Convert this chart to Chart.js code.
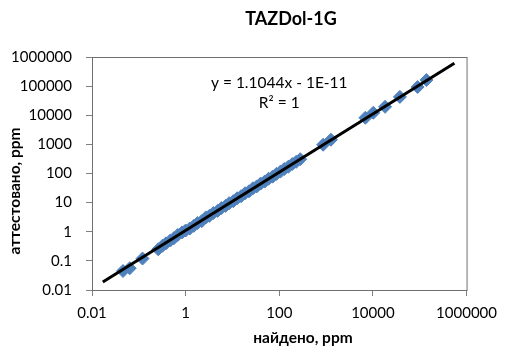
<!DOCTYPE html>
<html>
<head>
<meta charset="utf-8">
<script src="https://cdn.jsdelivr.net/npm/chart.js@4/dist/chart.umd.min.js"></script>
<style>
  body { margin: 0; background: #fff; }
  canvas { display: block; }
</style>
</head>
<body>
<canvas id="chart" width="505" height="352"></canvas>
<script>
const chartTitle = 'TAZDol-1G';
const xTitle = 'найдено, ppm';
const yTitle = 'аттестовано, ppm';
const equationText = 'y = 1.1044x - 1E-11';
const rSquaredText = 'R² = 1';

// found (x) vs certified (y)
const found = [0.046, 0.064, 0.12, 0.26, 0.32, 0.38, 0.47, 0.56, 0.68, 0.84,
    1.0, 1.23, 1.5, 1.8, 2.2, 2.7, 3.2, 3.9, 4.8, 5.8,
    7.1, 8.5, 10.4, 12.6, 15.3, 18.6, 22.6, 27.4, 33, 40,
    49, 59, 72, 87, 106, 128, 156, 190, 230, 280,
    865, 1270, 6900, 10200, 18200, 37700, 90000, 139000];
const certified = [0.045, 0.056, 0.12, 0.25, 0.33, 0.40, 0.50, 0.60, 0.78, 0.95,
    1.1, 1.3, 1.6, 2.0, 2.3, 3.1, 3.5, 4.4, 5.2, 6.5,
    7.7, 9.6, 11.2, 14.1, 16.6, 21, 24.5, 31, 36, 45,
    53, 66, 78, 97, 116, 143, 170, 212, 252, 310,
    970, 1450, 8200, 12200, 19500, 42700, 93000, 162000];

// trendline ends
const trendX = [0.017, 550000];
const trendY = [0.0188, 607420];

const xTicks = [0.01, 1, 100, 10000, 1000000];
const yTicks = [0.01, 0.1, 1, 10, 100, 1000, 10000, 100000, 1000000];

const fontFamily = 'Lato, "Open Sans", sans-serif';
Chart.defaults.font.family = fontFamily;
Chart.defaults.color = '#000';

const extraText = {
    id: 'extraText',
    beforeDatasetsDraw(chart) {
        const ctx = chart.ctx;
        const area = chart.chartArea;
        ctx.save();
        ctx.strokeStyle = '#6f6f6f';
        ctx.lineWidth = 1;
        ctx.strokeRect(area.left + 0.5, area.top + 0.5, area.right - area.left, area.bottom - area.top);
        ctx.restore();
    },
    afterDraw(chart) {
        const ctx = chart.ctx;
        const area = chart.chartArea;
        const xs = chart.scales.x;
        ctx.save();
        ctx.fillStyle = '#000';
        ctx.textAlign = 'center';
        ctx.textBaseline = 'middle';

        ctx.font = 'bold 18px ' + fontFamily;
        ctx.fillText(chartTitle, 291, 19);

        ctx.font = 'bold 15.5px ' + fontFamily;
        ctx.fillText(xTitle, 303, 338);

        ctx.save();
        ctx.translate(15, 191);
        ctx.rotate(-Math.PI / 2);
        ctx.fillText(yTitle, 0, 0);
        ctx.restore();

        ctx.font = '15.5px ' + fontFamily;
        const ex = xs.getPixelForValue(100);
        ctx.fillText(equationText, ex, area.top + 26);
        ctx.fillText(rSquaredText, ex, area.top + 46);
        ctx.restore();
    }
};

const axisCommon = {
    type: 'logarithmic',
    grid: { drawOnChartArea: false, drawTicks: true, tickLength: 6, color: '#7f7f7f' },
    border: { display: true, color: '#404040', width: 1 }
};

new Chart(document.getElementById('chart'), {
    type: 'scatter',
    data: {
        datasets: [
            {
                type: 'line',
                data: trendX.map((x, i) => ({ x: x, y: trendY[i] })),
                borderColor: '#000',
                borderWidth: 3,
                pointRadius: 0,
                fill: false
            },
            {
                data: found.map((x, i) => ({ x: x, y: certified[i] })),
                pointStyle: 'rectRot',
                pointRadius: 6.5,
                backgroundColor: '#4f81bd',
                borderColor: '#4f81bd',
                borderWidth: 1
            }
        ]
    },
    options: {
        responsive: false,
        animation: false,
        layout: { padding: { top: 57, right: 32, bottom: 0, left: 0 } },
        plugins: {
            legend: { display: false },
            tooltip: { enabled: false },
            title: { display: false }
        },
        scales: {
            x: Object.assign({}, axisCommon, {
                min: 0.01,
                max: 1000000,
                afterBuildTicks: scale => { scale.ticks = xTicks.map(v => ({ value: v })); },
                afterFit: scale => { scale.height = 62; },
                ticks: { padding: 8, font: { size: 15 }, maxRotation: 0, autoSkip: false, callback: v => String(v) }
            }),
            y: Object.assign({}, axisCommon, {
                min: 0.01,
                max: 1000000,
                afterBuildTicks: scale => { scale.ticks = yTicks.map(v => ({ value: v })); },
                afterFit: scale => { scale.width = 92; },
                ticks: { padding: 14, font: { size: 15 }, autoSkip: false, callback: v => String(v) }
            })
        }
    },
    plugins: [extraText]
});
</script>
</body>
</html>
